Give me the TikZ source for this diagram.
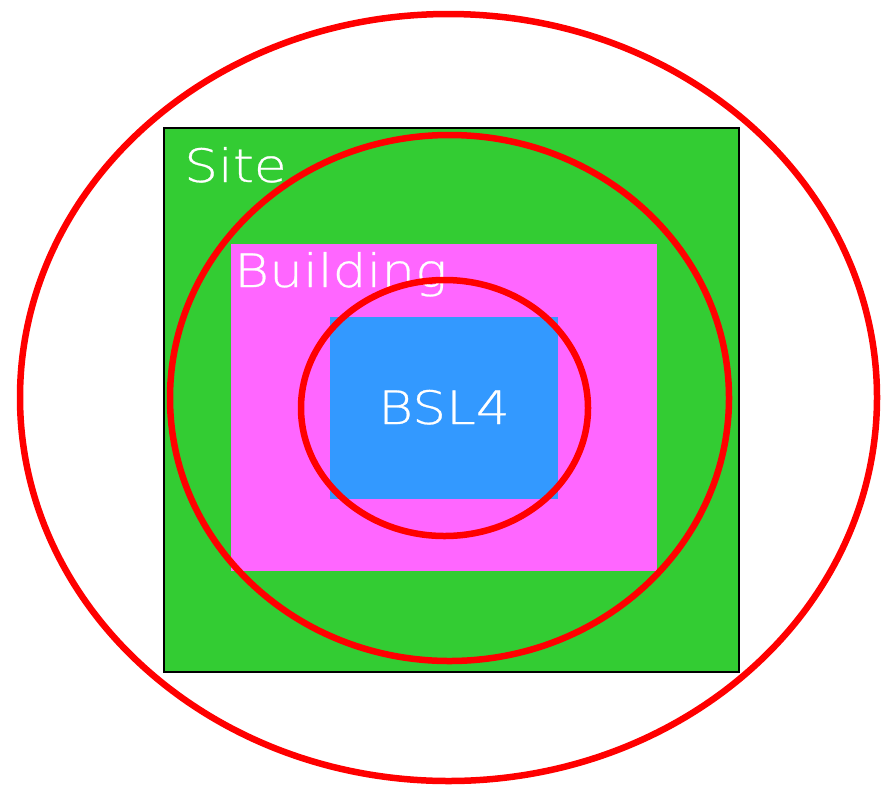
\documentclass[tikz,border=0pt]{standalone}
\usepackage{fontspec}
\usetikzlibrary{calc}
\setmainfont{DejaVu Sans ExtraLight}[FakeStretch=1.16,FakeBold=0.6]
\definecolor{zone}{HTML}{FF0000}
\definecolor{sitegreen}{HTML}{33CC33}
\definecolor{bldpink}{HTML}{FF66FF}
\definecolor{labblue}{HTML}{3399FF}
\newcommand{\lbl}{\fontsize{46}{52}\selectfont}

\begin{document}
\begin{tikzpicture}[x=1pt,y=-1pt,font=\lbl]
\tikzset{
  ring/.style={draw=zone,line width=6.5pt},
  tag/.style={inner sep=0,text=white}
}
\useasboundingbox (0,0) rectangle (882,793);
% nested areas
\filldraw[fill=sitegreen,draw=black,line width=1.4pt] (164,128) rectangle (739,672);
\fill[bldpink] (231,244) rectangle (657,571);
\fill[labblue] (330,317) rectangle (558,499);
\node[tag,anchor=base west] (site) at (184,182) {Site};
\node[tag,anchor=base west] (building) at (234,287) {Building};
\node[tag,anchor=base] (bsl) at (444,424) {BSL4};
% zone boundaries
\draw[ring] (448.5,397.5) ellipse [x radius=428.5,y radius=383.5];
\draw[ring] (449.5,398) ellipse [x radius=279.5,y radius=263];
\draw[ring] (444.5,408) ellipse [x radius=143.5,y radius=128];
\end{tikzpicture}
\end{document}
